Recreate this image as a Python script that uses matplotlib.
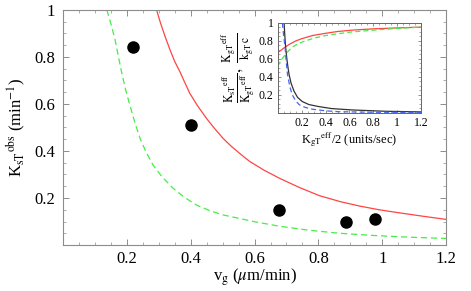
import matplotlib
matplotlib.use("Agg")
import matplotlib.pyplot as plt
from matplotlib.ticker import MultipleLocator, FixedLocator

plt.rcParams['font.family'] = ['Liberation Serif', 'DejaVu Serif']
plt.rcParams['mathtext.fontset'] = 'stix'

# ---- main data ----
dots_x = [0.22, 0.40, 0.678, 0.886, 0.977]
dots_y = [0.841, 0.511, 0.149, 0.099, 0.109]

red_x = [0.293, 0.305, 0.32, 0.335, 0.35, 0.366, 0.38, 0.397, 0.42, 0.449, 0.475, 0.501, 0.527,
         0.553, 0.584, 0.63, 0.678, 0.74, 0.803, 0.87, 0.928, 0.99, 1.053, 1.13, 1.2]
red_y = [1.0, 0.945, 0.885, 0.83, 0.78, 0.737, 0.695, 0.645, 0.595, 0.539, 0.495, 0.454, 0.42,
         0.39, 0.356, 0.318, 0.284, 0.245, 0.21, 0.184, 0.166, 0.15, 0.137, 0.122, 0.109]

green_x = [0.137, 0.15, 0.1625, 0.172, 0.183, 0.195, 0.209, 0.225, 0.241, 0.26, 0.282, 0.31, 0.345,
           0.38, 0.418, 0.46, 0.501, 0.553, 0.6, 0.678, 0.77, 0.866, 0.98, 1.09, 1.2]
green_y = [1.0, 0.94, 0.875, 0.81, 0.737, 0.665, 0.596, 0.52, 0.454, 0.395, 0.34, 0.29, 0.241,
           0.203, 0.17, 0.146, 0.128, 0.113, 0.099, 0.08, 0.063, 0.05, 0.04, 0.033, 0.028]

# ---- inset data ----
in_red_x = [0.0, 0.03, 0.06, 0.1, 0.15, 0.2, 0.29, 0.4, 0.5, 0.62, 0.8, 1.0, 1.2]
in_red_y = [0.67, 0.70, 0.73, 0.765, 0.80, 0.825, 0.86, 0.885, 0.905, 0.92, 0.935, 0.945, 0.954]

in_green_x = [0.0, 0.02, 0.04, 0.065, 0.09, 0.12, 0.17, 0.23, 0.3, 0.4, 0.5, 0.62, 0.8, 1.0, 1.2]
in_green_y = [0.52, 0.57, 0.61, 0.65, 0.69, 0.73, 0.77, 0.80, 0.83, 0.86, 0.88, 0.90, 0.92, 0.94, 0.954]

in_black_x = [0.052, 0.058, 0.065, 0.075, 0.085, 0.093, 0.11, 0.135, 0.165, 0.204, 0.26, 0.34,
              0.45, 0.62, 0.9, 1.2]
in_black_y = [1.0, 0.86, 0.73, 0.6, 0.5, 0.43, 0.33, 0.24, 0.17, 0.124, 0.09, 0.068,
              0.045, 0.03, 0.015, 0.008]

in_blue_x = [0.0375, 0.048, 0.06, 0.07, 0.08, 0.1, 0.12, 0.15, 0.18, 0.23, 0.29, 0.4, 0.51, 0.8, 1.2]
in_blue_y = [1.0, 0.86, 0.73, 0.57, 0.43, 0.29, 0.2, 0.13, 0.087, 0.058, 0.038, 0.02, 0.01, 0.004, 0.002]

main_xticks = [0.2, 0.4, 0.6, 0.8, 1.0, 1.2]
main_xlabels = ["0.2", "0.4", "0.6", "0.8", "1", "1.2"]
main_yticks = [0.2, 0.4, 0.6, 0.8, 1.0]
main_ylabels = ["0.2", "0.4", "0.6", "0.8", "1"]

RED = '#ff4444'
GREEN = '#44ee44'
BLUE = '#4466ee'
FRAME = '#8c8c8c'

fig = plt.figure(figsize=(4.71, 2.91), dpi=100)
ax = fig.add_axes([0.134, 0.158, 0.813, 0.808])

ax.plot(red_x, red_y, color=RED, lw=0.9)
ax.plot(green_x, green_y, color=GREEN, lw=0.9, dashes=(5, 3))
ax.plot(dots_x, dots_y, 'o', color='black', markersize=8)

ax.set_xlim(0, 1.2)
ax.set_ylim(0, 1.0)
ax.xaxis.set_major_locator(FixedLocator(main_xticks))
ax.set_xticklabels(main_xlabels)
ax.yaxis.set_major_locator(FixedLocator(main_yticks))
ax.set_yticklabels(main_ylabels)
ax.xaxis.set_minor_locator(MultipleLocator(0.05))
ax.yaxis.set_minor_locator(MultipleLocator(0.05))
for s in ax.spines.values():
    s.set_color(FRAME)
    s.set_linewidth(0.8)
ax.tick_params(which='both', direction='in', top=True, right=True, color=FRAME,
               labelsize=12)
ax.tick_params(axis='x', pad=4)
ax.tick_params(axis='y', pad=6)
ax.tick_params(which='major', length=4, width=0.7)
ax.tick_params(which='minor', length=2, width=0.5)
ax.set_xlabel(r"v$_\mathrm{g}$ ($\mu$m/min)", fontsize=12, labelpad=0)
ax.set_ylabel(r"K$_\mathrm{sT}$$^\mathrm{obs}$ (min$^{-1}$)", fontsize=12, labelpad=4)

# inset
ai = fig.add_axes([0.590, 0.613, 0.304, 0.308])
ai.plot(in_red_x, in_red_y, color=RED, lw=0.9)
ai.plot(in_green_x, in_green_y, color=GREEN, lw=0.9, dashes=(4, 2.5))
ai.plot(in_black_x, in_black_y, color='#333333', lw=0.9)
ai.plot(in_blue_x, in_blue_y, color=BLUE, lw=0.9, dashes=(4, 2.5))
ai.set_xlim(0, 1.2)
ai.set_ylim(0, 1.0)
ai.xaxis.set_major_locator(FixedLocator(main_xticks))
ai.set_xticklabels(main_xlabels)
ai.yaxis.set_major_locator(FixedLocator(main_yticks))
ai.set_yticklabels(main_ylabels)
ai.xaxis.set_minor_locator(MultipleLocator(0.05))
ai.yaxis.set_minor_locator(MultipleLocator(0.05))
for s in ai.spines.values():
    s.set_color('#666666')
    s.set_linewidth(0.7)
ai.tick_params(which='both', direction='in', top=True, right=True, color='#666666',
               labelsize=8.5, pad=3)
ai.tick_params(which='major', length=2.5, width=0.5)
ai.tick_params(which='minor', length=1.2, width=0.4)
ai.set_xlabel(r"K$_\mathrm{gT}$$^\mathrm{eff}$/2 (units/sec)", fontsize=9, labelpad=1)
ai.set_ylabel(r"$\frac{\mathrm{K_{sT}}^{\mathrm{eff}}}{\mathrm{K_{gT}}^{\mathrm{eff}}},\ \frac{\mathrm{K_{gT}}^{\mathrm{eff}}}{\mathrm{k_{gT}\,c}}$",
              fontsize=12, labelpad=1)

fig.savefig("out.png", dpi=100)
